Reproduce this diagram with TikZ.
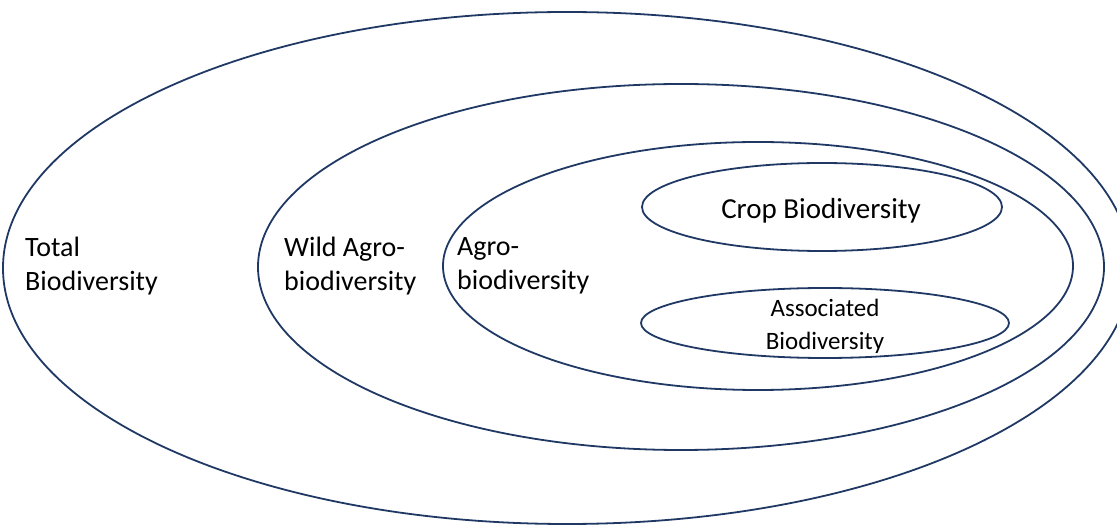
\documentclass[tikz,border=0pt]{standalone}
\usepackage{fontspec}
\setmainfont{Carlito}
\usetikzlibrary{shapes.geometric}

\definecolor{ringblue}{HTML}{203864}

\tikzset{
  ring/.style={ellipse, draw=ringblue, line width=1.8pt, inner sep=0pt},
  biglabel/.style={inner sep=0pt, align=left, font=\fontsize{28}{34.5}\selectfont},
  smalllabel/.style={inner sep=0pt, align=center, font=\fontsize{25}{33}\selectfont}
}

\begin{document}
\begin{tikzpicture}[x=1pt, y=-1pt]

% Fix the page to the size of the picture
\useasboundingbox (0,0) rectangle (1117,526);
\clip (0,0) rectangle (1117,526);

% Draw the nested ellipses, largest first
\node[ring, minimum width=1128pt, minimum height=512pt] (total) at (567,268) {};
\node[ring, minimum width=846pt, minimum height=366pt] (wild) at (681,267) {};
\node[ring, minimum width=630pt, minimum height=248pt] (agro) at (758,266) {};

% The two inner ellipses and their text
\node[ring, minimum width=360pt, minimum height=88pt] (crop) at (822,207) {};
\node[inner sep=0pt, font=\fontsize{29}{34}\selectfont] (croptext) at (821,211) {Crop Biodiversity};
\node[ring, minimum width=368pt, minimum height=70pt] (assoc) at (825,323) {};
\node[smalllabel] (assoctext) at (825,326) {Associated\\Biodiversity};

% Label the outer rings
\node[biglabel, anchor=west] (totaltext) at (25,266) {Total\\Biodiversity};
\node[biglabel, anchor=west] (wildtext) at (284,266) {Wild Agro-\\biodiversity};
\node[biglabel, anchor=west] (agrotext) at (457,266) {Agro-\\biodiversity};

\end{tikzpicture}
\end{document}
